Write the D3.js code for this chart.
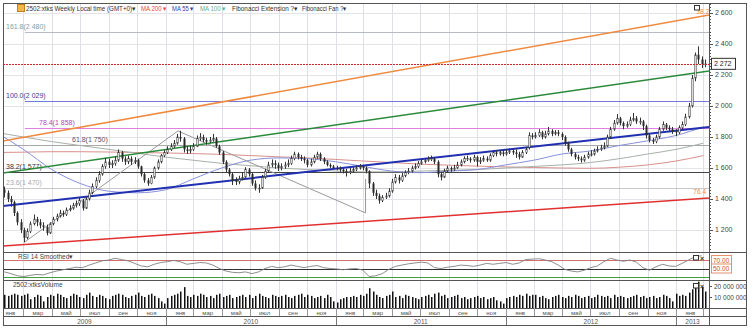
<!DOCTYPE html>
<html lang="ru">
<head>
<meta charset="UTF-8">
<title>2502:xtks Weekly</title>
<script src="https://cdn.jsdelivr.net/npm/d3@7/dist/d3.min.js"></script>
<style>
  body { margin: 0; background: #fff; }
  svg text { font-family: "Liberation Sans", Arial, sans-serif; }
</style>
</head>
<body>
<script>
// weekly candles, first week starting 19 Jan 2009
var weekStart = new Date(2009, 0, 19);

var opens = [1460,1440,1400,1380,1310,1250,1200,1150,1190,1240,1270,1250,
  1230,1220,1180,1240,1270,1290,1310,1300,1330,1340,1360,1370,
  1390,1340,1400,1440,1480,1520,1560,1610,1640,1620,1630,1650,
  1700,1660,1640,1660,1640,1650,1610,1560,1520,1500,1540,1600,
  1640,1680,1700,1720,1740,1760,1800,1790,1720,1710,1720,1740,
  1790,1800,1780,1770,1780,1790,1740,1700,1640,1590,1560,1520,
  1510,1530,1540,1590,1560,1500,1470,1470,1540,1580,1620,1630,
  1620,1600,1610,1620,1630,1660,1690,1670,1660,1650,1620,1640,
  1670,1690,1660,1640,1620,1610,1600,1595,1590,1580,1570,1580,
  1590,1600,1610,1600,1580,1500,1440,1420,1390,1410,1420,1450,
  1510,1540,1520,1550,1570,1580,1600,1610,1630,1640,1650,1660,
  1660,1640,1560,1540,1580,1600,1590,1600,1620,1640,1660,1660,
  1650,1670,1640,1650,1660,1650,1680,1700,1690,1700,1690,1700,
  1710,1700,1690,1670,1700,1730,1810,1800,1810,1830,1800,1820,
  1840,1820,1830,1820,1800,1760,1720,1690,1670,1660,1650,1670,
  1690,1690,1710,1720,1730,1740,1800,1850,1890,1920,1890,1870,
  1880,1910,1920,1900,1900,1870,1810,1780,1770,1800,1850,1880,
  1860,1850,1840,1830,1860,1880,1930,2000,2180,2330,2300,2270];

var highs = [1480,1455,1420,1390,1320,1270,1215,1210,1255,1300,1285,1270,
  1250,1235,1250,1285,1305,1330,1325,1345,1360,1375,1390,1410,
  1400,1415,1460,1500,1540,1580,1625,1665,1660,1650,1675,1720,
  1710,1675,1680,1675,1670,1660,1615,1570,1535,1555,1610,1655,
  1690,1715,1740,1760,1780,1820,1840,1800,1740,1745,1760,1810,
  1825,1815,1795,1800,1820,1800,1750,1710,1650,1600,1570,1540,
  1550,1570,1605,1600,1570,1520,1495,1555,1595,1640,1655,1650,
  1635,1630,1640,1655,1680,1705,1700,1685,1675,1660,1660,1685,
  1705,1700,1670,1650,1630,1620,1615,1610,1600,1595,1600,1605,
  1615,1625,1620,1610,1585,1510,1460,1435,1425,1440,1470,1530,
  1560,1555,1570,1585,1600,1615,1630,1645,1655,1665,1675,1680,
  1670,1650,1575,1595,1615,1610,1620,1640,1655,1675,1680,1670,
  1685,1680,1670,1680,1675,1695,1715,1715,1715,1710,1720,1725,
  1725,1720,1705,1715,1735,1830,1825,1830,1850,1840,1840,1865,
  1850,1845,1845,1830,1810,1770,1730,1700,1685,1675,1685,1705,
  1715,1725,1740,1750,1765,1815,1865,1910,1948,1930,1900,1900,
  1930,1955,1935,1925,1910,1880,1820,1795,1815,1865,1900,1890,
  1875,1865,1850,1875,1900,1950,2020,2200,2345,2385,2320,2300];

var lows = [1410,1380,1350,1290,1230,1180,1120,1140,1180,1230,1225,1210,
  1195,1165,1175,1230,1255,1280,1285,1290,1320,1330,1345,1355,
  1325,1335,1390,1430,1470,1505,1550,1595,1600,1600,1615,1640,
  1640,1620,1625,1620,1625,1595,1545,1505,1485,1495,1530,1590,
  1630,1670,1690,1710,1730,1750,1770,1700,1690,1695,1710,1735,
  1775,1765,1750,1760,1770,1730,1685,1625,1570,1545,1490,1490,
  1495,1520,1530,1545,1485,1455,1440,1465,1530,1570,1605,1595,
  1580,1585,1595,1605,1620,1650,1655,1645,1630,1605,1610,1630,
  1660,1645,1625,1610,1600,1590,1585,1575,1565,1545,1560,1570,
  1580,1590,1585,1565,1470,1420,1400,1370,1380,1400,1410,1440,
  1500,1500,1510,1540,1560,1570,1590,1600,1620,1630,1640,1645,
  1625,1540,1520,1535,1570,1575,1580,1595,1610,1630,1645,1635,
  1640,1610,1625,1640,1640,1640,1670,1675,1680,1675,1680,1690,
  1685,1665,1655,1665,1690,1720,1785,1790,1800,1785,1790,1810,
  1805,1810,1805,1780,1745,1705,1675,1655,1645,1635,1640,1660,
  1675,1680,1700,1710,1720,1735,1790,1840,1880,1875,1850,1860,
  1870,1900,1885,1880,1845,1790,1765,1755,1760,1790,1840,1845,
  1835,1820,1805,1820,1850,1870,1920,1990,2160,2270,2245,2250];

var closes = [1440,1400,1380,1310,1250,1200,1150,1190,1240,1270,1250,1230,
  1220,1180,1240,1270,1290,1310,1300,1330,1340,1360,1370,1390,
  1340,1400,1440,1480,1520,1560,1610,1640,1620,1630,1650,1700,
  1660,1640,1660,1640,1650,1610,1560,1520,1500,1540,1600,1640,
  1680,1700,1720,1740,1760,1800,1790,1720,1710,1720,1740,1790,
  1800,1780,1770,1780,1790,1740,1700,1640,1590,1560,1520,1510,
  1530,1540,1590,1560,1500,1470,1470,1540,1580,1620,1630,1620,
  1600,1610,1620,1630,1660,1690,1670,1660,1650,1620,1640,1670,
  1690,1660,1640,1620,1610,1600,1595,1590,1580,1570,1580,1590,
  1600,1610,1600,1580,1500,1440,1420,1390,1410,1420,1450,1510,
  1540,1520,1550,1570,1580,1600,1610,1630,1640,1650,1660,1660,
  1640,1560,1540,1580,1600,1590,1600,1620,1640,1660,1660,1650,
  1670,1640,1650,1660,1650,1680,1700,1690,1700,1690,1700,1710,
  1700,1690,1670,1700,1720,1810,1800,1810,1830,1800,1820,1840,
  1820,1830,1820,1800,1760,1720,1690,1670,1660,1650,1670,1690,
  1690,1710,1720,1730,1740,1800,1850,1890,1920,1890,1870,1880,
  1910,1920,1900,1900,1870,1810,1780,1770,1800,1850,1880,1860,
  1850,1840,1830,1860,1880,1930,2000,2180,2330,2300,2270,2272];

// weekly volume, millions of shares
var volumes = [12,11,12,13,12,11,12,13,8,10,12,11,
  6,10,12,11,13,12,10,9,11,13,12,10,
  9,12,14,11,10,12,11,9,8,11,12,13,
  12,10,9,11,12,14,11,10,12,13,11,9,
  6,4,9,11,12,13,15,19,11,10,12,11,
  13,12,10,11,9,12,13,10,11,12,9,10,
  11,12,10,12,9,11,13,11,10,9,12,11,
  10,11,12,10,9,11,12,13,10,12,11,9,
  10,11,9,12,10,6,5,8,9,10,10,11,
  10,12,11,13,18,15,12,10,9,11,12,15,
  10,11,9,12,11,10,9,8,10,11,12,10,
  13,14,11,12,9,10,11,12,9,10,8,9,
  10,11,9,10,8,9,10,7,6,4,9,10,
  11,10,12,11,13,11,12,12,10,11,9,8,
  10,11,12,10,9,11,10,12,11,9,10,11,
  9,10,12,11,10,11,9,12,10,11,10,9,
  10,11,12,10,11,9,10,11,9,10,12,11,
  9,6,13,11,12,11,14,17,22,24,19,15];

// RSI 14 smoothed, read every second week
var rsiValues = [42,38,33,31,34,36,35,40,44,47,50,53,52,58,63,68,70,74,71,68,
  62,56,54,60,64,66,69,66,60,62,64,63,58,50,44,41,40,42,38,42,
  50,55,52,54,58,55,52,55,57,52,50,49,47,49,50,46,31,33,38,48,
  55,58,61,63,65,63,52,50,53,55,58,57,55,58,62,60,62,64,60,63,
  71,72,73,70,66,58,48,44,42,46,52,56,66,74,70,67,70,65,52,46,
  54,60,56,55,62,70,78,80];

// moving averages, read every two months from Jan 2009 to Mar 2013
var maStart = new Date(2009, 0, 1);
var ma55 = [1830,1720,1590,1500,1450,1440,1460,1530,1600,1650,1665,1660,
  1640,1610,1580,1570,1580,1590,1620,1650,1690,1710,1745,1775,1810,1865];
var ma100 = [1830,1800,1770,1745,1720,1695,1670,1650,1630,1615,1600,1590,
  1580,1575,1575,1580,1585,1590,1600,1610,1620,1635,1660,1690,1720,1760];
var ma200 = [1700,1702,1705,1705,1703,1700,1697,1693,1688,1680,1672,1665,
  1655,1645,1635,1625,1618,1612,1607,1603,1600,1598,1605,1620,1645,1680];

// Fibonacci extension levels
var fibLevels = ["161.8", "100.0", "78.4", "61.8", "38.2", "23.6"];
var fibPrices = [2480, 2029, 1858, 1750, 1577, 1470];

// Fibonacci fan: anchor points and fan rays (start / end of visible span)
var fanAnchorDates = ["2009-03-04", "2010-01-27", "2011-03-06"];
var fanAnchorPrices = [1123, 1839, 1310];
var rayStart = "2009-01-16", rayEnd = "2013-03-13";
var rayNames = ["38.2", "50.0", "61.8", "76.4"];
var rayStartPrices = [1774, 1568, 1355, 1097];
var rayEndPrices = [2587, 2226, 1865, 1406];

var lastPrice = 2272;
var priceTicks = [1200, 1400, 1600, 1800, 2000, 2200, 2400, 2600];
var monthNames = ["янв", "фев", "мар", "апр", "май", "июн", "июл", "авг", "сен", "окт", "ноя", "дек"];

window.onload = function () {
  var W = 752, H = 328;
  var left = 3, right = 709, outerRight = 746;
  var top = 3, mainBottom = 252, rsiBottom = 280, volBottom = 308, monthBottom = 316, yearBottom = 325;

  var parse = d3.timeParse("%Y-%m-%d");
  var fmt = d3.formatLocale({decimal: ".", thousands: " ", grouping: [3], currency: ["", ""]}).format(",");

  var x = d3.scaleTime()
    .domain([new Date(2009, 0, 1), new Date(2013, 0, 1)])
    .range([-4, 676]);
  var y = d3.scaleLinear().domain([1058, 2664.5]).range([mainBottom, top]);
  var yR = d3.scaleLinear().domain([30, 70]).range([277, 260]);
  var yV = d3.scaleLinear().domain([0, 20]).range([volBottom, 286]);

  var svg = d3.select("body").append("svg")
    .attr("width", W).attr("height", H);

  var defs = svg.append("defs");
  defs.append("clipPath").attr("id", "clipMain").append("rect")
    .attr("x", left).attr("y", top).attr("width", right - left).attr("height", mainBottom - top);
  defs.append("clipPath").attr("id", "clipRsi").append("rect")
    .attr("x", left).attr("y", mainBottom).attr("width", right - left).attr("height", rsiBottom - mainBottom);
  defs.append("clipPath").attr("id", "clipAll").append("rect")
    .attr("x", left).attr("y", top).attr("width", right - left).attr("height", yearBottom - top);

  var dates = closes.map(function (c, i) { return d3.timeWeek.offset(weekStart, i); });
  var maDates = ma55.map(function (v, i) { return d3.timeMonth.offset(maStart, 2 * i); });

  // vertical grid, every two months
  var gridMonths = d3.timeMonth.every(2).range(new Date(2009, 0, 1), new Date(2013, 4, 1))
    .filter(function (d) { return x(d) > left && x(d) < right; });

  var grid = svg.append("g");
  grid.selectAll(".vg").data(gridMonths).enter().append("line")
    .attr("x1", function (d) { return Math.round(x(d)) + 0.5; })
    .attr("x2", function (d) { return Math.round(x(d)) + 0.5; })
    .attr("y1", top).attr("y2", volBottom)
    .attr("stroke", "#dde0ea").attr("stroke-width", 1);
  grid.selectAll(".hg").data(priceTicks).enter().append("line")
    .attr("x1", left).attr("x2", right)
    .attr("y1", function (d) { return Math.round(y(d)) + 0.5; })
    .attr("y2", function (d) { return Math.round(y(d)) + 0.5; })
    .attr("stroke", "#e2e4ea");

  var main = svg.append("g").attr("clip-path", "url(#clipMain)");

  // Fibonacci extension lines (upper three start at the first anchor)
  var fibLineColors = ["#b8bcc4", "#7878d8", "#e080e0", "#a8a8a8", "#444", "#c8c8c8"];
  var fibTextColors = ["#7aa4a4", "#3a3a90", "#c040c0", "#605070", "#333", "#aaa"];
  var fibLabelX = [6, 6, 39, 72, 6, 6];
  var fibFromAnchor = [true, true, true, false, false, false];
  var anchorX = x(parse(fanAnchorDates[0]));
  main.selectAll(".fib").data(fibPrices).enter().append("line")
    .attr("x1", function (d, i) { return fibFromAnchor[i] ? anchorX : left; })
    .attr("x2", right)
    .attr("y1", function (d) { return Math.round(y(d)) + 0.5; })
    .attr("y2", function (d) { return Math.round(y(d)) + 0.5; })
    .attr("stroke", function (d, i) { return fibLineColors[i]; });
  main.selectAll(".fibt").data(fibPrices).enter().append("text")
    .attr("x", function (d, i) { return fibLabelX[i]; })
    .attr("y", function (d) { return y(d) - 3; })
    .attr("font-size", 7)
    .attr("fill", function (d, i) { return fibTextColors[i]; })
    .text(function (d, i) { return fibLevels[i] + "(" + fmt(d) + ")"; });

  // moving averages
  var maLine = function (vals) {
    return d3.line()
      .x(function (d, i) { return x(maDates[i]); })
      .y(function (d) { return y(d); })
      .curve(d3.curveMonotoneX)(vals);
  };
  main.append("path").attr("d", maLine(ma200)).attr("fill", "none").attr("stroke", "#d8908c").attr("stroke-width", 1);
  main.append("path").attr("d", maLine(ma100)).attr("fill", "none").attr("stroke", "#a8b0a8").attr("stroke-width", 1);
  main.append("path").attr("d", maLine(ma55)).attr("fill", "none").attr("stroke", "#8890d8").attr("stroke-width", 1);

  // Fibonacci fan
  var anchorPts = fanAnchorDates.map(function (d, i) { return [x(parse(d)), y(fanAnchorPrices[i])]; });
  main.append("path")
    .attr("d", d3.line()(anchorPts))
    .attr("fill", "none").attr("stroke", "#999").attr("stroke-width", 1);
  main.append("line")
    .attr("x1", anchorPts[2][0]).attr("x2", anchorPts[2][0])
    .attr("y1", anchorPts[2][1]).attr("y2", y(1529))
    .attr("stroke", "#999");
  var rayColors = ["#f08a40", "#2a8a3a", "#2030b0", "#e03030"];
  var rayWidths = [1.5, 1.5, 2, 1.5];
  main.selectAll(".ray").data(rayNames).enter().append("line")
    .attr("x1", x(parse(rayStart))).attr("x2", x(parse(rayEnd)))
    .attr("y1", function (d, i) { return y(rayStartPrices[i]); })
    .attr("y2", function (d, i) { return y(rayEndPrices[i]); })
    .attr("stroke", function (d, i) { return rayColors[i]; })
    .attr("stroke-width", function (d, i) { return rayWidths[i]; });

  // candles
  var cg = main.append("g");
  cg.selectAll(".wick").data(closes).enter().append("line")
    .attr("x1", function (d, i) { return Math.round(x(dates[i])) + 0.5; })
    .attr("x2", function (d, i) { return Math.round(x(dates[i])) + 0.5; })
    .attr("y1", function (d, i) { return y(highs[i]); })
    .attr("y2", function (d, i) { return y(lows[i]); })
    .attr("stroke", "#333").attr("stroke-width", 1);
  cg.selectAll(".body").data(closes).enter().append("rect")
    .attr("x", function (d, i) { return Math.round(x(dates[i])) - 0.5 + (d >= opens[i] ? 0.3 : 0); })
    .attr("width", function (d, i) { return d >= opens[i] ? 1.4 : 2; })
    .attr("y", function (d, i) { return y(Math.max(opens[i], d)); })
    .attr("height", function (d, i) { return Math.max(1, Math.abs(y(opens[i]) - y(d))); })
    .attr("fill", function (d, i) { return d >= opens[i] ? "#fff" : "#2a2a2a"; })
    .attr("stroke", function (d, i) { return d >= opens[i] ? "#333" : "none"; })
    .attr("stroke-width", 0.6);

  // last price line
  main.append("line")
    .attr("x1", left).attr("x2", right)
    .attr("y1", Math.round(y(lastPrice)) + 0.5).attr("y2", Math.round(y(lastPrice)) + 0.5)
    .attr("stroke", "#d02828").attr("stroke-dasharray", "2,1");

  // fan ray labels
  svg.append("text").attr("x", right).attr("y", y(rayEndPrices[0]) - 1)
    .attr("text-anchor", "end").attr("font-size", 6.5).attr("fill", "#f08a40").text(rayNames[0]);
  svg.append("text").attr("x", right - 3).attr("y", y(rayEndPrices[3]) - 4)
    .attr("text-anchor", "end").attr("font-size", 6.5).attr("fill", "#f08a40").text(rayNames[3]);

  // RSI panel
  var rsiG = svg.append("g").attr("clip-path", "url(#clipRsi)");
  var rsiLevels = [70, 50, 30];
  var rsiLevelColors = ["#d07070", "#333", "#40a040"];
  rsiG.selectAll(".rl").data(rsiLevels).enter().append("line")
    .attr("x1", left).attr("x2", right)
    .attr("y1", function (d) { return Math.round(yR(d)) + 0.5; })
    .attr("y2", function (d) { return Math.round(yR(d)) + 0.5; })
    .attr("stroke", function (d, i) { return rsiLevelColors[i]; });
  rsiG.append("path")
    .attr("d", d3.line()
      .x(function (d, i) { return x(dates[2 * i]); })
      .y(function (d) { return yR(d); })(rsiValues))
    .attr("fill", "none").attr("stroke", "#808080").attr("stroke-width", 0.9);

  // volume panel
  svg.append("g").selectAll("rect").data(volumes).enter().append("rect")
    .attr("x", function (d, i) { return Math.round(x(dates[i])); })
    .attr("width", 1.5)
    .attr("y", function (d) { return yV(d); })
    .attr("height", function (d) { return volBottom - yV(d); })
    .attr("fill", "#111");

  // panel borders
  var borders = svg.append("g").attr("stroke", "#555").attr("fill", "none");
  borders.append("rect").attr("x", left + 0.5).attr("y", top + 0.5)
    .attr("width", outerRight - left).attr("height", yearBottom - top);
  [mainBottom, rsiBottom, volBottom, monthBottom].forEach(function (yy) {
    borders.append("line").attr("x1", left).attr("x2", outerRight)
      .attr("y1", yy + 0.5).attr("y2", yy + 0.5);
  });
  borders.append("line").attr("x1", right + 0.5).attr("x2", right + 0.5)
    .attr("y1", top).attr("y2", yearBottom);

  // right price axis
  var minor = d3.range(1080, 2661, 20);
  svg.append("g").selectAll("line").data(minor).enter().append("line")
    .attr("x1", right).attr("x2", function (d) { return d % 200 === 0 ? right + 4 : right + 2; })
    .attr("y1", function (d) { return Math.round(y(d)) + 0.5; })
    .attr("y2", function (d) { return Math.round(y(d)) + 0.5; })
    .attr("stroke", "#555");
  svg.append("g").selectAll("text").data(priceTicks).enter().append("text")
    .attr("x", right + 6).attr("y", function (d) { return y(d) + 2.5; })
    .attr("font-size", 7).attr("fill", "#444")
    .text(function (d) { return fmt(d); });

  // last price box
  svg.append("rect").attr("x", right + 2.5).attr("y", y(lastPrice) - 5.5)
    .attr("width", 24).attr("height", 11).attr("fill", "#fff").attr("stroke", "#333");
  svg.append("text").attr("x", right + 5).attr("y", y(lastPrice) + 2.5)
    .attr("font-size", 7).attr("fill", "#222").text(fmt(lastPrice));

  // RSI boxes
  [70, 50].forEach(function (v) {
    svg.append("rect").attr("x", right + 2.5).attr("y", yR(v) - 4.5)
      .attr("width", 20).attr("height", 9).attr("fill", "#fff").attr("stroke", "#e89070");
    svg.append("text").attr("x", right + 4).attr("y", yR(v) + 2.5)
      .attr("font-size", 6.5).attr("fill", "#d05030").text(v.toFixed(2));
  });

  // volume ticks
  [20, 10].forEach(function (v) {
    svg.append("line").attr("x1", right).attr("x2", right + 3)
      .attr("y1", Math.round(yV(v)) + 0.5).attr("y2", Math.round(yV(v)) + 0.5).attr("stroke", "#555");
    svg.append("text").attr("x", right + 5).attr("y", yV(v) + 2.5)
      .attr("font-size", 6.5).attr("fill", "#444").text(fmt(v * 1000000));
  });

  // month row
  var axisG = svg.append("g").attr("clip-path", "url(#clipAll)");
  axisG.selectAll(".ms").data(gridMonths).enter().append("line")
    .attr("x1", function (d) { return Math.round(x(d)) + 0.5; })
    .attr("x2", function (d) { return Math.round(x(d)) + 0.5; })
    .attr("y1", volBottom).attr("y2", monthBottom)
    .attr("stroke", "#999");
  var monthCells = d3.timeMonth.every(2).range(new Date(2009, 0, 1), new Date(2013, 2, 1));
  axisG.selectAll(".mt").data(monthCells).enter().append("text")
    .attr("x", function (d) { return x(new Date(d.getFullYear(), d.getMonth() + 1, 1)); })
    .attr("y", 314.5).attr("text-anchor", "middle")
    .attr("font-size", 6).attr("fill", "#555")
    .text(function (d) { return monthNames[d.getMonth()]; });

  // year row
  var years = [2009, 2010, 2011, 2012, 2013];
  axisG.selectAll(".ys").data(years).enter().append("line")
    .attr("x1", function (d) { return Math.round(x(new Date(d, 0, 1))) + 0.5; })
    .attr("x2", function (d) { return Math.round(x(new Date(d, 0, 1))) + 0.5; })
    .attr("y1", monthBottom).attr("y2", yearBottom).attr("stroke", "#777");
  axisG.selectAll(".yt").data(years).enter().append("text")
    .attr("x", function (d) {
      var a = Math.max(left, x(new Date(d, 0, 1)));
      var b = Math.min(right, x(new Date(d + 1, 0, 1)));
      return (a + b) / 2;
    })
    .attr("y", 323.5).attr("text-anchor", "middle")
    .attr("font-size", 6.5).attr("fill", "#555")
    .text(function (d) { return d; });

  // legend
  svg.append("rect").attr("x", 17.5).attr("y", 4.5).attr("width", 7).attr("height", 7)
    .attr("fill", "#f0b848").attr("stroke", "#c08020");
  var legend = [
    {t: "2502:xtks Weekly Local time (GMT+0)▾", x: 26, w: 110, c: "#333"},
    {t: "MA 200 ▾", x: 141, w: 26, c: "#e04848"},
    {t: "MA 55 ▾", x: 172, w: 22, c: "#3838b0"},
    {t: "MA 100 ▾", x: 200, w: 26, c: "#60b090"},
    {t: "Fibonacci Extension ?▾", x: 232, w: 66, c: "#333"},
    {t: "Fibonacci Fan ?▾", x: 302, w: 45, c: "#333"}
  ];
  svg.selectAll(".lg").data(legend).enter().append("text")
    .attr("x", function (d) { return d.x; }).attr("y", 10.5)
    .attr("font-size", 6.5).attr("fill", function (d) { return d.c; })
    .attr("textLength", function (d) { return d.w; })
    .attr("lengthAdjust", "spacingAndGlyphs")
    .text(function (d) { return d.t; });

  svg.append("text").attr("x", 18).attr("y", 259).attr("font-size", 6.5).attr("fill", "#444").text("RSI 14 Smoothed▾");
  svg.append("text").attr("x", 13).attr("y", 287).attr("font-size", 6.5).attr("fill", "#444").text("2502:xtksVolume");

  // panel icons
  [[694, 5], [693, 255], [693, 283]].forEach(function (p, k) {
    svg.append("rect").attr("x", p[0] + 0.5).attr("y", p[1] + 0.5).attr("width", 5).attr("height", 4.5)
      .attr("fill", "#fff").attr("stroke", "#333");
    if (k > 0) {
      svg.append("text").attr("x", p[0] + 7).attr("y", p[1] + 5.5).attr("font-size", 7)
        .attr("font-weight", "bold").attr("fill", "#333").text("×");
    }
  });
};
</script>
</body>
</html>
